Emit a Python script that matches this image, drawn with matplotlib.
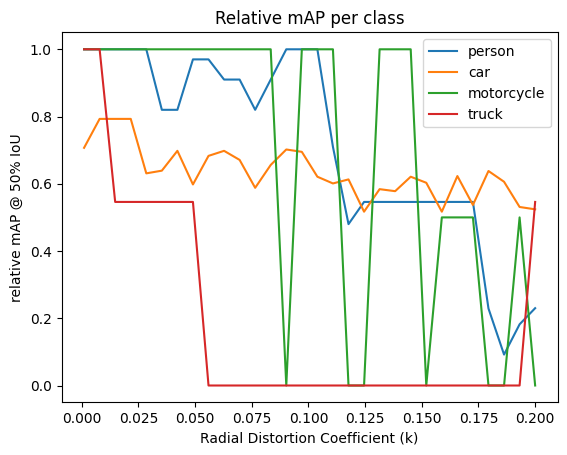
import matplotlib
matplotlib.use("Agg")
import matplotlib.pyplot as plt

# radial distortion coefficients (30 steps from 0.001 to 0.2)
k_vals = [0.001, 0.00786, 0.01472, 0.02159, 0.02845, 0.03531, 0.04217, 0.04903,
          0.0559, 0.06276, 0.06962, 0.07648, 0.08334, 0.09021, 0.09707, 0.10393,
          0.11079, 0.11766, 0.12452, 0.13138, 0.13824, 0.1451, 0.15197, 0.15883,
          0.16569, 0.17255, 0.17941, 0.18628, 0.19314, 0.2]

person = [1.0, 1.0, 1.0, 1.0, 1.0, 0.82, 0.82, 0.97, 0.97, 0.91,
          0.91, 0.82, 0.91, 1.0, 1.0, 1.0, 0.71, 0.48, 0.546, 0.546,
          0.546, 0.546, 0.546, 0.546, 0.546, 0.546, 0.229, 0.092, 0.182, 0.23]
car = [0.707, 0.793, 0.793, 0.793, 0.631, 0.639, 0.698, 0.598, 0.683, 0.698,
       0.671, 0.588, 0.656, 0.702, 0.695, 0.621, 0.601, 0.613, 0.517, 0.584,
       0.578, 0.621, 0.603, 0.517, 0.623, 0.537, 0.638, 0.606, 0.531, 0.524]
motorcycle = [1.0, 1.0, 1.0, 1.0, 1.0, 1.0, 1.0, 1.0, 1.0, 1.0,
              1.0, 1.0, 1.0, 0.0, 1.0, 1.0, 1.0, 0.0, 0.0, 1.0,
              1.0, 1.0, 0.0, 0.5, 0.5, 0.5, 0.0, 0.0, 0.5, 0.0]
truck = [1.0, 1.0, 0.546, 0.546, 0.546, 0.546, 0.546, 0.546, 0.0, 0.0,
         0.0, 0.0, 0.0, 0.0, 0.0, 0.0, 0.0, 0.0, 0.0, 0.0,
         0.0, 0.0, 0.0, 0.0, 0.0, 0.0, 0.0, 0.0, 0.0, 0.546]

series = {"person": person, "car": car, "motorcycle": motorcycle, "truck": truck}

fig = plt.figure(figsize=(5.67, 4.55), dpi=100)
ax = fig.add_axes([0.1085, 0.1158, 0.8751, 0.8128])
for name, vals in series.items():
  ax.plot(k_vals, vals, label=name)
ax.set_xlabel("Radial Distortion Coefficient (k)")
ax.set_ylabel("relative mAP @ 50% IoU")
ax.set_title("Relative mAP per class")
ax.legend()
fig.savefig("out.png", dpi=100)
